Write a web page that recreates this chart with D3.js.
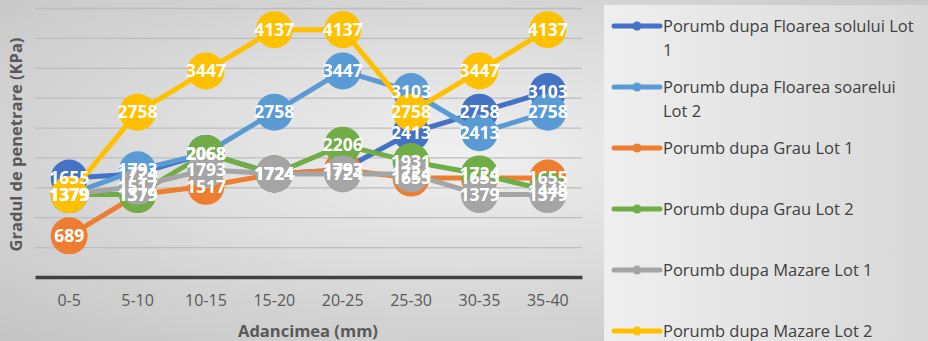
<!DOCTYPE html>
<html>
<head>
<meta charset="utf-8">
<script src="https://cdn.jsdelivr.net/npm/d3@7"></script>
<style>
  html, body { margin: 0; padding: 0; background: #e4e4e4; }
  svg { display: block; }
</style>
</head>
<body>
<svg id="chart" width="928" height="341"></svg>
<script>
// Penetration resistance (kPa) by depth interval, six plots
const depths = ["0-5", "5-10", "10-15", "15-20", "20-25", "25-30", "30-35", "35-40"];

const seriesNames = [
  "Porumb dupa Floarea solului Lot 1",
  "Porumb dupa Floarea soarelui Lot 2",
  "Porumb dupa Grau Lot 1",
  "Porumb dupa Grau Lot 2",
  "Porumb dupa Mazare Lot 1",
  "Porumb dupa Mazare Lot 2"
];

const floareaSoluluiLot1  = [1655, 1724, 2068, 1724, 1793, 2413, 2758, 3103];
const floareaSoareluiLot2 = [1379, 1793, 2068, 2758, 3447, 3103, 2413, 2758];
const grauLot1            = [689, 1379, 1517, 1724, 1793, 1655, 1655, 1655];
const grauLot2            = [1379, 1379, 2068, 1724, 2206, 1931, 1724, 1448];
const mazareLot1          = [1379, 1517, 1793, 1724, 1724, 1724, 1379, 1379];
const mazareLot2          = [1379, 2758, 3447, 4137, 4137, 2758, 3447, 4137];

const seriesValues = [floareaSoluluiLot1, floareaSoareluiLot2, grauLot1, grauLot2, mazareLot1, mazareLot2];
const seriesColors = ["#4472C4", "#5B9BD5", "#ED7D31", "#70AD47", "#A5A5A5", "#FFC000"];

const yTicks = [500, 1000, 1500, 2000, 2500, 3000, 3500, 4000, 4500];

const svg = d3.select("#chart");
const W = 928, H = 341;

// Background shading
const defs = svg.append("defs");
const bg = defs.append("radialGradient").attr("id", "bgGrad")
  .attr("cx", "0.5").attr("cy", "0.45").attr("r", "0.75");
bg.append("stop").attr("offset", "0").attr("stop-color", "#f0f0f0");
bg.append("stop").attr("offset", "1").attr("stop-color", "#c4c4c4");
svg.append("rect").attr("width", W).attr("height", H).attr("fill", "url(#bgGrad)");

const lg = defs.append("linearGradient").attr("id", "legGrad")
  .attr("x1", "0").attr("y1", "0").attr("x2", "1").attr("y2", "0");
lg.append("stop").attr("offset", "0").attr("stop-color", "#efefef");
lg.append("stop").attr("offset", "1").attr("stop-color", "#d8d8d8");
svg.append("rect").attr("x", 604).attr("y", 5).attr("width", W - 604).attr("height", H - 5)
  .attr("fill", "url(#legGrad)");

const plot = { left: 35, right: 582, top: 8, bottom: 277 };

const x = d3.scaleBand().domain(depths).range([plot.left, plot.right]);
const cx = d => x(d) + x.bandwidth() / 2;
const y = d3.scaleLinear().domain([0, 4500]).range([plot.bottom, plot.top]);

// Gridlines
svg.append("g").attr("class", "grid")
  .attr("transform", `translate(${plot.left},0)`)
  .call(d3.axisLeft(y).tickValues(yTicks).tickSize(-(plot.right - plot.left)).tickFormat(""))
  .call(g => g.select(".domain").remove())
  .call(g => g.selectAll("line").attr("stroke", "#bdbdbd").attr("stroke-width", 1.3));

// Category axis
svg.append("g")
  .attr("transform", `translate(0,${plot.bottom})`)
  .call(d3.axisBottom(x).tickSize(0).tickPadding(18))
  .call(g => g.select(".domain").attr("stroke", "#404040").attr("stroke-width", 3.5))
  .call(g => g.selectAll("text")
    .attr("font-family", "'Open Sans', sans-serif")
    .attr("font-size", 16).attr("fill", "#595959"));

// Series: line then markers, one series at a time
const line = d3.line().x((d, i) => cx(depths[i])).y(d => y(d));
seriesValues.forEach((vals, s) => {
  const g = svg.append("g");
  g.append("path").datum(vals)
    .attr("d", line).attr("fill", "none")
    .attr("stroke", seriesColors[s]).attr("stroke-width", 5)
    .attr("stroke-linejoin", "round");
  g.selectAll("circle").data(vals).join("circle")
    .attr("cx", (d, i) => cx(depths[i])).attr("cy", d => y(d))
    .attr("r", 18.5).attr("fill", seriesColors[s]);
});

// Value labels on top
seriesValues.forEach((vals, s) => {
  svg.append("g").selectAll("text").data(vals).join("text")
    .attr("x", (d, i) => cx(depths[i])).attr("y", d => y(d))
    .attr("dy", "0.36em").attr("text-anchor", "middle")
    .attr("font-family", "'Open Sans', sans-serif").attr("font-weight", 700)
    .attr("font-size", 17.5).attr("fill", "#ffffff")
    .text(d => d);
});

// Axis titles
svg.append("text")
  .attr("transform", `translate(22,${(plot.top + plot.bottom) / 2 + 2}) rotate(-90)`)
  .attr("text-anchor", "middle")
  .attr("font-family", "'Open Sans', sans-serif").attr("font-weight", 700)
  .attr("font-size", 16.5).attr("fill", "#595959")
  .text("Gradul de penetrare (KPa)");

svg.append("text")
  .attr("x", 308).attr("y", 337)
  .attr("text-anchor", "middle")
  .attr("font-family", "'Open Sans', sans-serif").attr("font-weight", 700)
  .attr("font-size", 16.5).attr("fill", "#595959")
  .text("Adancimea (mm)");

// Legend
const legendRows = [
  ["Porumb dupa Floarea solului Lot", "1"],
  ["Porumb dupa Floarea soarelui", "Lot 2"],
  ["Porumb dupa Grau Lot 1"],
  ["Porumb dupa Grau Lot 2"],
  ["Porumb dupa Mazare Lot 1"],
  ["Porumb dupa Mazare Lot 2"]
];
const legend = svg.append("g");
legendRows.forEach((rows, i) => {
  const ly = 26 + i * 61;
  const g = legend.append("g").attr("transform", `translate(0,${ly})`);
  g.append("line").attr("x1", 614).attr("x2", 660).attr("y1", 0).attr("y2", 0)
    .attr("stroke", seriesColors[i]).attr("stroke-width", 5).attr("stroke-linecap", "round");
  g.append("circle").attr("cx", 637).attr("cy", 0).attr("r", 4.5).attr("fill", seriesColors[i]);
  const t = g.append("text").attr("x", 663).attr("y", 0)
    .attr("font-family", "'Open Sans', sans-serif").attr("font-size", 16.5).attr("fill", "#404040");
  rows.forEach((r, k) => t.append("tspan").attr("x", 663).attr("dy", k === 0 ? "0.35em" : 24).text(r));
});
</script>
</body>
</html>
